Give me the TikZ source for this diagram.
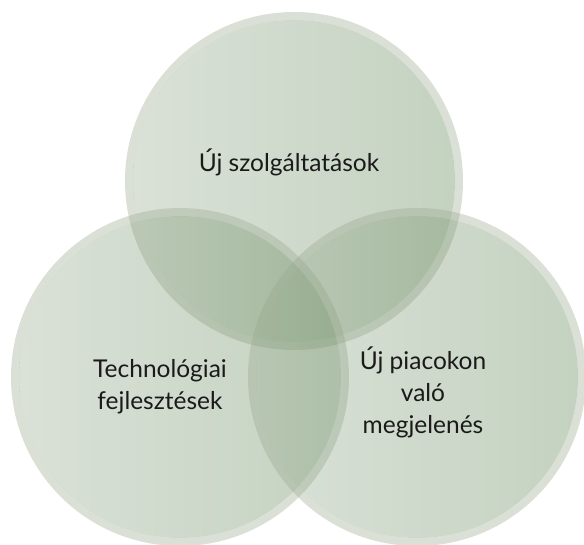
\documentclass[tikz,border=0pt]{standalone}
\usepackage{fontspec}
\setmainfont{Lato}
\definecolor{discL}{RGB}{149,169,141}
\definecolor{discM}{RGB}{116,168,86}
\definecolor{discR}{RGB}{86,126,75}
\definecolor{discRing}{RGB}{152,166,141}
\definecolor{labelInk}{RGB}{26,26,26}
\begin{document}
\begin{tikzpicture}[x=1pt,y=-1pt,
  disc/.style={left color=discL, middle color=discM, right color=discR, fill opacity=0.35},
  discring/.style={draw=discRing, line width=8pt, draw opacity=0.35},
  lbl/.style={text=labelInk, font=\fontsize{24.5}{32}\selectfont, align=center}]
\useasboundingbox (0,0) rectangle (584,545);
\clip (0,0) rectangle (584,545);
\coordinate (ct) at (294,181);
\coordinate (cl) at (180,377);
\coordinate (cr) at (417,377);
\foreach \c in {ct,cl,cr}{
  \shade[disc] (\c) circle (161pt);
  \draw[discring] (\c) circle (165pt);
}
\node[lbl] (top) at (289,162) {Új szolgáltatások};
\node[lbl] (left) at (160,387) {Technológiai\\fejlesztések};
\node[lbl] (right) at (423,392) {Új piacokon\\való\\megjelenés};
\end{tikzpicture}
\end{document}
